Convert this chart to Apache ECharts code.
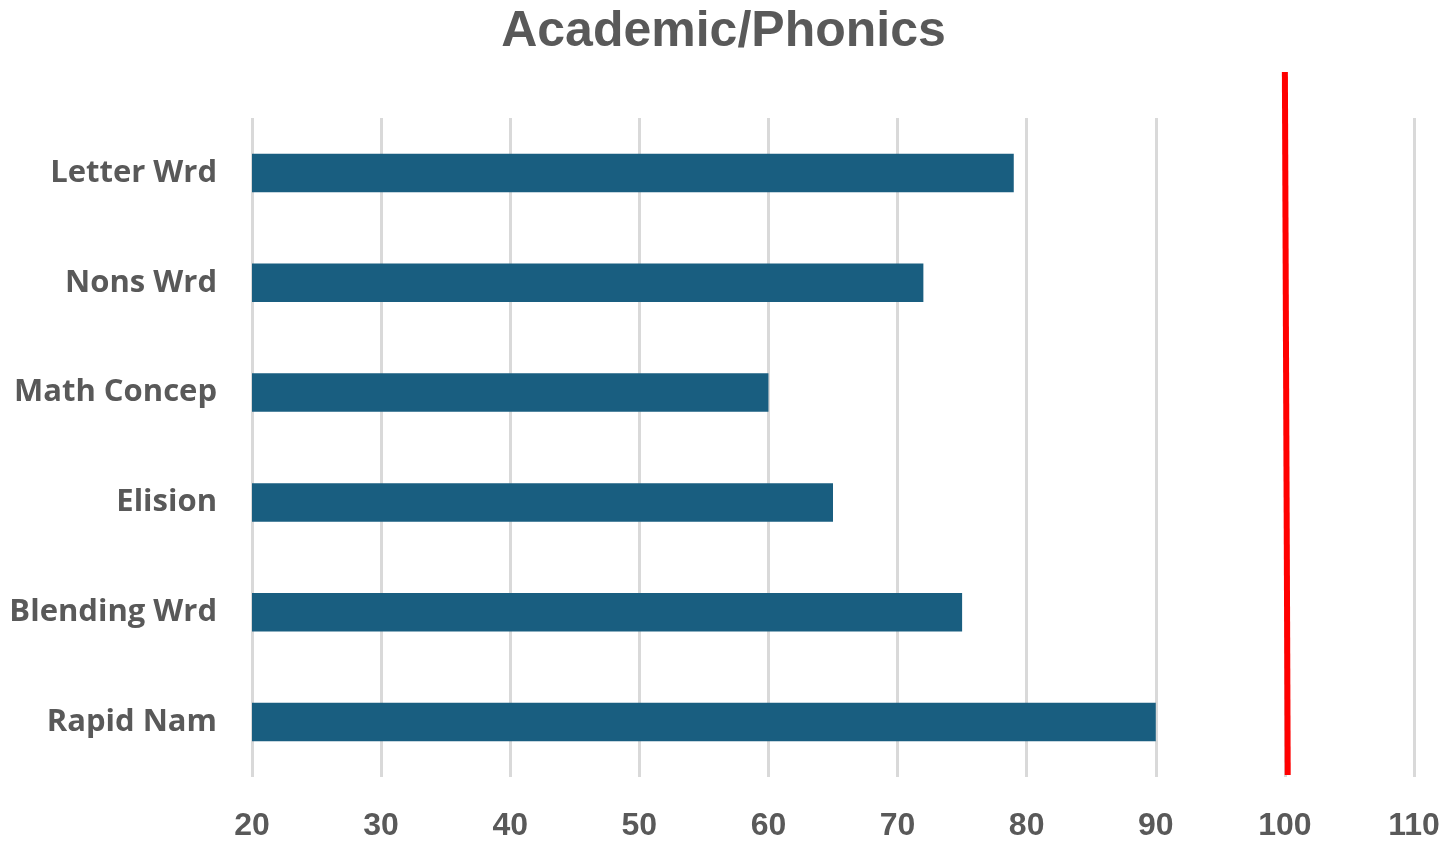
<!DOCTYPE html>
<html>
<head>
<meta charset="utf-8">
<script src="https://cdn.jsdelivr.net/npm/echarts@6/dist/echarts.min.js"></script>
<style>
  html, body { margin: 0; padding: 0; background: #fff; }
  #main { width: 1447px; height: 845px; }
</style>
</head>
<body>
<div id="main"></div>
<script>
const chartDom = document.getElementById('main');
let myChart = echarts.init(chartDom);

const categories = ['Letter Wrd', 'Nons Wrd', 'Math Concep', 'Elision', 'Blending Wrd', 'Rapid Nam'];
const scores = [79, 72, 60, 65, 75, 90];
// target line at 100 (drawn slightly tilted like the original)
const targetLine = [[100, 1], [100.22, 0]];

const textColor = '#595959';

myChart.setOption({
    animation: false,
    title: {
        text: 'Academic/Phonics',
        left: 'center',
        top: 2,
        textStyle: {
            fontFamily: '"Liberation Sans", Arial, sans-serif',
            fontSize: 50,
            fontWeight: 'bold',
            color: textColor
        }
    },
    grid: [
        { left: 252, right: 33, top: 118, bottom: 68 },
        { left: 252, right: 33, top: 72, bottom: 70 }
    ],
    xAxis: [
        {
            type: 'value',
            gridIndex: 0,
            min: 20,
            max: 110,
            interval: 10,
            axisLine: { show: false },
            axisTick: { show: false },
            splitLine: { lineStyle: { color: '#d9d9d9', width: 3 } },
            axisLabel: {
                margin: 33,
                fontFamily: '"Liberation Sans", Arial, sans-serif',
                fontSize: 32,
                fontWeight: 'bold',
                color: textColor
            }
        },
        {
            type: 'value',
            gridIndex: 1,
            min: 20,
            max: 110,
            show: false,
            splitLine: { show: false }
        }
    ],
    yAxis: [
        {
            type: 'category',
            gridIndex: 0,
            data: categories,
            inverse: true,
            axisLine: { show: false },
            axisTick: { show: false },
            axisLabel: {
                margin: 35,
                padding: [4, 0, 0, 0],
                fontFamily: '"Open Sans", sans-serif',
                fontSize: 31,
                fontWeight: 'bold',
                color: textColor
            }
        },
        {
            type: 'value',
            gridIndex: 1,
            min: 0,
            max: 1,
            show: false,
            splitLine: { show: false }
        }
    ],
    series: [
        {
            type: 'bar',
            xAxisIndex: 0,
            yAxisIndex: 0,
            data: scores,
            barWidth: '35%',
            itemStyle: { color: '#195e80' }
        },
        {
            type: 'line',
            xAxisIndex: 1,
            yAxisIndex: 1,
            data: targetLine,
            symbol: 'none',
            lineStyle: { color: '#ff0000', width: 6 }
        }
    ]
});

window.addEventListener('resize', () => {
    myChart.resize();
});
</script>
</body>
</html>
